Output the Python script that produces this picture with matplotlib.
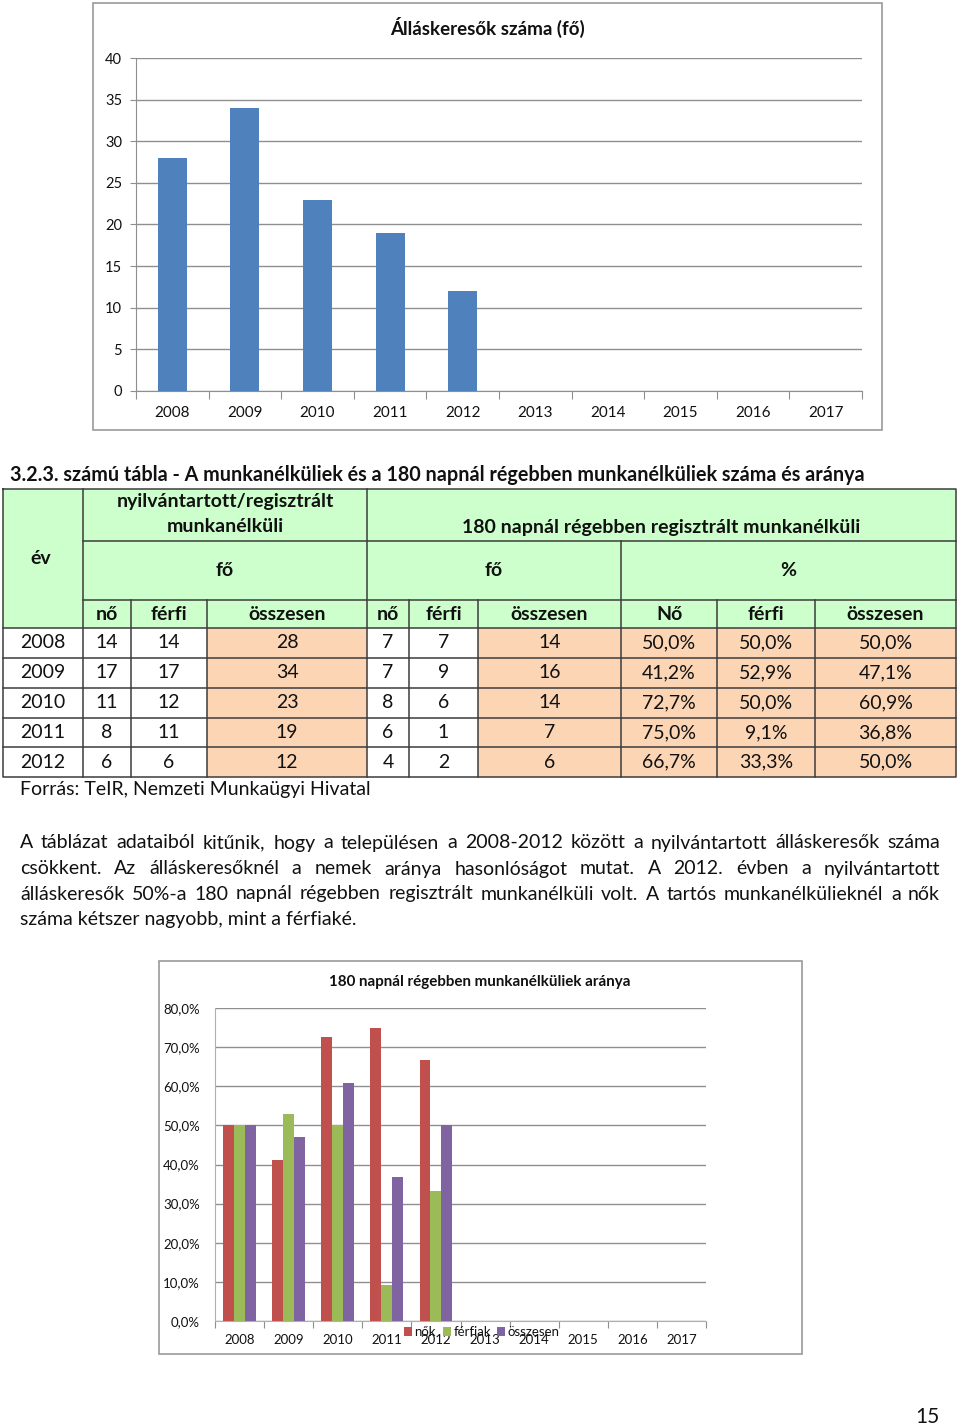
import numpy as np
import matplotlib.pyplot as plt
from matplotlib.patches import Rectangle

plt.rcParams["font.family"] = ["Lato", "DejaVu Sans"]

# --- data ---
years = ["2008", "2009", "2010", "2011", "2012", "2013", "2014", "2015", "2016", "2017"]
table_years = ["2008", "2009", "2010", "2011", "2012"]

reg_women = [14, 17, 11, 8, 6]
reg_men = [14, 17, 12, 11, 6]
reg_total = [28, 34, 23, 19, 12]

long_women = [7, 7, 8, 6, 4]
long_men = [7, 9, 6, 1, 2]
long_total = [14, 16, 14, 7, 6]

pct_women = [50.0, 41.2, 72.7, 75.0, 66.7]
pct_men = [50.0, 52.9, 50.0, 9.1, 33.3]
pct_total = [50.0, 47.1, 60.9, 36.8, 50.0]

paragraph = [
    "A táblázat adataiból kitűnik, hogy a településen a 2008-2012 között a nyilvántartott álláskeresők száma",
    "csökkent. Az álláskeresőknél a nemek aránya hasonlóságot mutat. A 2012. évben a nyilvántartott",
    "álláskeresők 50%-a 180 napnál régebben regisztrált munkanélküli volt. A tartós munkanélkülieknél a nők",
    "száma kétszer nagyobb, mint a férfiaké.",
]

W, H = 960, 1428
fig = plt.figure(figsize=(9.6, 14.28), dpi=100)
page = fig.add_axes([0, 0, 1, 1])
page.set_xlim(0, W)
page.set_ylim(H, 0)
page.axis("off")


def box(x0, y0, x1, y1):
    return [x0 / W, 1 - y1 / H, (x1 - x0) / W, (y1 - y0) / H]


def pct(v):
    return f"{v:.1f}%".replace(".", ",")


txt = "#111111"
grid_c = "#8f8f8f"
body = 14

# --- top chart ---
page.add_patch(Rectangle((93, 3), 789, 427, fill=False, ec="#9a9a9a", lw=1.2))
page.text(487, 27, "Álláskeresők száma (fő)", ha="center", va="center",
          fontsize=13.5, fontweight="bold", color=txt)

ax1 = fig.add_axes(box(136, 58, 862, 391))
ax1.bar(np.arange(len(reg_total)), reg_total, width=0.4, color="#4F81BD", zorder=3)
ax1.set_xlim(-0.5, len(years) - 0.5)
ax1.set_ylim(0, 40)
ax1.set_yticks(np.arange(0, 41, 5))
ax1.yaxis.grid(True, color=grid_c, lw=1)
ax1.set_axisbelow(True)
ax1.set_xticks(np.arange(-0.5, len(years), 1))
ax1.set_xticklabels([])
ax1.set_xticks(np.arange(len(years)), minor=True)
ax1.set_xticklabels(years, minor=True)
ax1.tick_params(axis="x", which="major", length=6, color=grid_c)
ax1.tick_params(axis="x", which="minor", length=0, pad=11, labelsize=11, labelcolor=txt)
ax1.tick_params(axis="y", length=4, color=grid_c, labelsize=10.5, labelcolor=txt, pad=6)
for s in ["top", "right"]:
    ax1.spines[s].set_visible(False)
for s in ["left", "bottom"]:
    ax1.spines[s].set_color(grid_c)

# --- table ---
page.text(10, 475, "3.2.3. számú tábla - A munkanélküliek és a 180 napnál régebben munkanélküliek száma és aránya",
          ha="left", va="center", fontsize=14.2, fontweight="bold", color=txt)

xs = [3, 83, 131, 207, 367, 409, 478, 621, 717, 815, 956]
ys = [489, 541, 600, 628, 658, 688, 718, 747, 777]
green = "#CCFFCC"
peach = "#FCD5B4"
line_c = "#3c3c3c"

page.add_patch(Rectangle((xs[0], ys[0]), xs[-1] - xs[0], ys[3] - ys[0], fc=green, ec="none"))
peach_cols = [3, 6, 7, 8, 9]
for c in range(len(xs) - 1):
    fc = peach if c in peach_cols else "white"
    page.add_patch(Rectangle((xs[c], ys[3]), xs[c + 1] - xs[c], ys[-1] - ys[3], fc=fc, ec="none"))

lw = 1.1
page.plot([xs[0], xs[-1], xs[-1], xs[0], xs[0]], [ys[0], ys[0], ys[-1], ys[-1], ys[0]], color=line_c, lw=lw)
for x in [83, 367]:
    page.plot([x, x], [ys[0], ys[-1]], color=line_c, lw=lw)
page.plot([621, 621], [ys[1], ys[-1]], color=line_c, lw=lw)
for x in [131, 207, 409, 478, 717, 815]:
    page.plot([x, x], [ys[2], ys[-1]], color=line_c, lw=lw)
for y in [ys[1], ys[2]]:
    page.plot([83, xs[-1]], [y, y], color=line_c, lw=lw)
for y in ys[3:-1]:
    page.plot([xs[0], xs[-1]], [y, y], color=line_c, lw=lw)

hb = dict(ha="center", va="center", fontsize=14, fontweight="bold", color=txt)
page.text(225, 502, "nyilvántartott/regisztrált", **hb)
page.text(225, 527, "munkanélküli", **hb)
page.text(661, 528, "180 napnál régebben regisztrált munkanélküli", **hb)
page.text(41, 558, "év", **hb)
page.text(225, 570, "fő", **hb)
page.text(494, 570, "fő", **hb)
page.text(788, 570, "%", **hb)
sub_heads = ["nő", "férfi", "összesen", "nő", "férfi", "összesen", "Nő", "férfi", "összesen"]
for c, h in enumerate(sub_heads):
    page.text((xs[c + 1] + xs[c + 2]) / 2, 614, h, **hb)

rows = zip(table_years, reg_women, reg_men, reg_total, long_women, long_men, long_total,
           pct_women, pct_men, pct_total)
for r, row in enumerate(rows):
    yc = (ys[3 + r] + ys[4 + r]) / 2
    cells = list(row[:7]) + [pct(v) for v in row[7:]]
    for c, v in enumerate(cells):
        page.text((xs[c] + xs[c + 1]) / 2, yc, str(v), ha="center", va="center",
                  fontsize=14, color=txt)

page.text(20, 790, "Forrás: TeIR, Nemzeti Munkaügyi Hivatal", ha="left", va="center",
          fontsize=body, color=txt)

# --- justified paragraph ---
renderer = fig.canvas.get_renderer()
line_y = [843, 869, 894, 920]
for i, (line, y) in enumerate(zip(paragraph, line_y)):
    if i == len(paragraph) - 1:
        page.text(20, y, line, ha="left", va="center", fontsize=body, color=txt)
        continue
    words = line.split()
    items = [page.text(0, y, w, ha="left", va="center", fontsize=body, color=txt) for w in words]
    widths = [t.get_window_extent(renderer).width for t in items]
    gap = (940 - 20 - sum(widths)) / (len(words) - 1)
    x = 20
    for t, w in zip(items, widths):
        t.set_x(x)
        x += w + gap

# --- bottom chart ---
page.add_patch(Rectangle((159, 961), 643, 393, fill=False, ec="#9a9a9a", lw=1.2))
page.text(480, 982, "180 napnál régebben munkanélküliek aránya", ha="center", va="center",
          fontsize=10.9, fontweight="bold", color=txt)

ax2 = fig.add_axes(box(215, 1008, 706, 1321))
xg = np.arange(len(pct_women))
bw = 0.222
b1 = ax2.bar(xg - bw, pct_women, width=bw, color="#C0504D", zorder=3, label="nők")
b2 = ax2.bar(xg, pct_men, width=bw, color="#9BBB59", zorder=3, label="férfiak")
b3 = ax2.bar(xg + bw, pct_total, width=bw, color="#8064A2", zorder=3, label="összesen")
ax2.set_xlim(-0.5, len(years) - 0.5)
ax2.set_ylim(0, 80)
ax2.set_yticks(np.arange(0, 81, 10))
ax2.set_yticklabels([pct(v) for v in np.arange(0, 81, 10)])
ax2.yaxis.grid(True, color=grid_c, lw=1)
ax2.set_axisbelow(True)
ax2.set_xticks(np.arange(-0.5, len(years), 1))
ax2.set_xticklabels([])
ax2.set_xticks(np.arange(len(years)), minor=True)
ax2.set_xticklabels(years, minor=True)
ax2.tick_params(axis="x", which="major", length=5, color=grid_c)
ax2.tick_params(axis="x", which="minor", length=0, pad=9, labelsize=9.5, labelcolor=txt)
ax2.tick_params(axis="y", length=0, labelsize=9.5, labelcolor=txt, pad=11)
for s in ["top", "right"]:
    ax2.spines[s].set_visible(False)
for s in ["left", "bottom"]:
    ax2.spines[s].set_color("#b0b0b0")

fig.legend(handles=[b1, b2, b3], loc="center", bbox_to_anchor=(482 / W, 1 - 1332 / H),
           ncol=3, frameon=False, fontsize=9.5, handlelength=0.6, handleheight=0.6,
           handletextpad=0.2, columnspacing=0.5, borderpad=0, labelcolor=txt)

page.text(927, 1417, "15", ha="center", va="center", fontsize=15, color=txt)

fig.savefig("out.png", dpi=100)
